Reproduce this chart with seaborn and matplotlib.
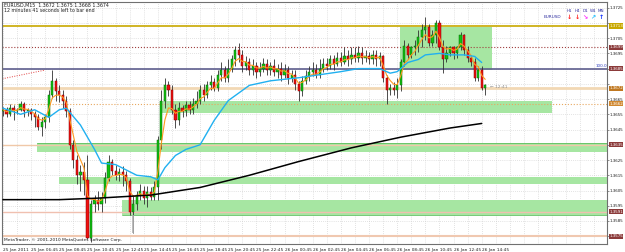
import numpy as np
import pandas as pd
import matplotlib
matplotlib.use("Agg")
import matplotlib.pyplot as plt
import seaborn as sns
from matplotlib.patches import Rectangle

# ---------------- data ----------------
opens = [1.3657,1.3658,1.3655,1.3659,1.3657,1.3658,1.3662,1.3657,1.3658,1.3655,
         1.3653,1.3647,1.3650,1.3653,1.3668,1.3677,1.3670,1.3668,1.3664,1.3657,
         1.3635,1.3625,1.3615,1.3617,1.3612,1.3574,1.3596,1.3599,1.3596,1.3600,
         1.3613,1.3624,1.3618,1.3615,1.3617,1.3615,1.3611,1.3591,1.3596,1.3602,
         1.3605,1.3600,1.3604,1.3601,1.3607,1.3638,1.3664,1.3674,1.3671,1.3658,
         1.3651,1.3659,1.3657,1.3661,1.3658,1.3662,1.3664,1.3671,1.3668,1.3674,
         1.3676,1.3672,1.3681,1.3684,1.3679,1.3685,1.3691,1.3697,1.3694,1.3687,
         1.3689,1.3684,1.3687,1.3683,1.3685,1.3688,1.3684,1.3687,1.3683,1.3685,
         1.3681,1.3684,1.3679,1.3681,1.3675,1.3670,1.3677,1.3680,1.3683,1.3684,
         1.3681,1.3685,1.3688,1.3687,1.3691,1.3688,1.3692,1.3689,1.3693,1.3691,
         1.3694,1.3692,1.3695,1.3692,1.3693,1.3691,1.3694,1.3691,1.3693,1.3679,
         1.3671,1.3672,1.3671,1.3674,1.3689,1.3700,1.3694,1.3699,1.3700,1.3706,
         1.3710,1.3712,1.3702,1.3707,1.3715,1.3699,1.3691,1.3695,1.3699,1.3695,
         1.3699,1.3707,1.3697,1.3692,1.3689,1.3679,1.3684,1.3672]
closes = [1.3658,1.3655,1.3659,1.3657,1.3658,1.3662,1.3657,1.3658,1.3655,1.3653,
          1.3647,1.3650,1.3653,1.3668,1.3677,1.3670,1.3668,1.3664,1.3657,1.3635,
          1.3625,1.3615,1.3617,1.3612,1.3574,1.3596,1.3599,1.3596,1.3600,1.3613,
          1.3624,1.3618,1.3615,1.3617,1.3615,1.3611,1.3591,1.3596,1.3602,1.3605,
          1.3600,1.3604,1.3601,1.3607,1.3638,1.3664,1.3674,1.3671,1.3658,1.3651,
          1.3659,1.3657,1.3661,1.3658,1.3662,1.3664,1.3671,1.3668,1.3674,1.3676,
          1.3672,1.3681,1.3684,1.3679,1.3685,1.3691,1.3697,1.3694,1.3687,1.3689,
          1.3684,1.3687,1.3683,1.3685,1.3688,1.3684,1.3687,1.3683,1.3685,1.3681,
          1.3684,1.3679,1.3681,1.3675,1.3670,1.3677,1.3680,1.3683,1.3684,1.3681,
          1.3685,1.3688,1.3687,1.3691,1.3688,1.3692,1.3689,1.3693,1.3691,1.3694,
          1.3692,1.3695,1.3692,1.3693,1.3691,1.3694,1.3691,1.3693,1.3679,1.3671,
          1.3672,1.3671,1.3674,1.3689,1.3700,1.3694,1.3699,1.3700,1.3706,1.3710,
          1.3712,1.3702,1.3707,1.3715,1.3699,1.3691,1.3695,1.3699,1.3695,1.3699,
          1.3707,1.3697,1.3692,1.3689,1.3679,1.3684,1.3672,1.3674]
highs = [1.3660,1.3660,1.3662,1.3661,1.3659,1.3664,1.3663,1.3659,1.3659,1.3657,
         1.3655,1.3653,1.3655,1.3671,1.3684,1.3679,1.3674,1.3671,1.3667,1.3659,
         1.3638,1.3628,1.3622,1.3624,1.3628,1.3599,1.3602,1.3605,1.3604,1.3617,
         1.3628,1.3626,1.3622,1.3620,1.3621,1.3618,1.3613,1.3602,1.3605,1.3609,
         1.3608,1.3608,1.3607,1.3611,1.3641,1.3671,1.3679,1.3677,1.3674,1.3662,
         1.3663,1.3661,1.3664,1.3664,1.3666,1.3670,1.3674,1.3675,1.3677,1.3681,
         1.3679,1.3684,1.3689,1.3687,1.3691,1.3694,1.3700,1.3702,1.3697,1.3693,
         1.3692,1.3691,1.3689,1.3689,1.3692,1.3691,1.3689,1.3691,1.3688,1.3689,
         1.3688,1.3687,1.3684,1.3684,1.3677,1.3680,1.3684,1.3687,1.3689,1.3688,
         1.3691,1.3692,1.3692,1.3694,1.3694,1.3696,1.3696,1.3699,1.3697,1.3699,
         1.3699,1.3700,1.3699,1.3697,1.3696,1.3697,1.3697,1.3696,1.3694,1.3681,
         1.3675,1.3676,1.3679,1.3691,1.3704,1.3702,1.3700,1.3704,1.3710,1.3714,
         1.3719,1.3714,1.3710,1.3717,1.3717,1.3704,1.3700,1.3700,1.3700,1.3700,
         1.3709,1.3708,1.3700,1.3694,1.3692,1.3687,1.3687,1.3675]
lows = [1.3654,1.3653,1.3654,1.3651,1.3655,1.3657,1.3653,1.3654,1.3651,1.3647,
        1.3645,1.3641,1.3646,1.3650,1.3666,1.3664,1.3663,1.3659,1.3653,1.3632,
        1.3620,1.3609,1.3605,1.3602,1.3573,1.3571,1.3591,1.3592,1.3591,1.3597,
        1.3611,1.3615,1.3612,1.3611,1.3608,1.3605,1.3589,1.3577,1.3592,1.3599,
        1.3596,1.3594,1.3599,1.3599,1.3599,1.3632,1.3659,1.3667,1.3655,1.3646,
        1.3648,1.3653,1.3654,1.3655,1.3655,1.3659,1.3662,1.3664,1.3666,1.3671,
        1.3670,1.3670,1.3677,1.3676,1.3676,1.3683,1.3687,1.3689,1.3683,1.3684,
        1.3681,1.3681,1.3679,1.3680,1.3683,1.3681,1.3681,1.3680,1.3679,1.3677,
        1.3679,1.3675,1.3676,1.3671,1.3664,1.3667,1.3675,1.3677,1.3680,1.3679,
        1.3679,1.3683,1.3684,1.3685,1.3684,1.3687,1.3687,1.3688,1.3687,1.3688,
        1.3689,1.3689,1.3688,1.3689,1.3688,1.3688,1.3687,1.3687,1.3676,1.3662,
        1.3668,1.3668,1.3666,1.3670,1.3687,1.3691,1.3692,1.3694,1.3696,1.3699,
        1.3704,1.3700,1.3700,1.3702,1.3697,1.3682,1.3689,1.3693,1.3691,1.3692,
        1.3697,1.3694,1.3689,1.3687,1.3677,1.3677,1.3671,1.3668]

# slow moving average (cyan) read at bar positions
ma_slow_bar = [0,5,9,13,16,18,22,26,28,32,38,42,44,46,49,52,56,60,64,70,76,84,
               90,96,101,107,110,112,115,118,120,124,127,131,134,136]
ma_slow_val = [1.3659,1.3655,1.3658,1.3653,1.3658,1.3659,1.3648,1.3632,1.3623,
               1.3622,1.3615,1.3614,1.3612,1.3620,1.3628,1.3632,1.3635,1.3651,
               1.3664,1.3674,1.3677,1.3679,1.3681,1.3683,1.3685,1.3685,1.3682,
               1.3683,1.3689,1.3691,1.3694,1.3695,1.3694,1.3694,1.3693,1.3689]
# long moving average (black)
ma_long_bar = [0,16,27,42,56,70,84,99,113,127,136]
ma_long_val = [1.3599,1.3599,1.3600,1.3602,1.3607,1.3615,1.3624,1.3633,1.3640,
               1.3646,1.3649]

# horizontal levels
level_prices = [1.3713, 1.3699, 1.3685, 1.3672, 1.3662, 1.3635, 1.3591, 1.3575]
level_colors = ["#c8a800", "#a04040", "#5e5e8e", "#f2d8b4", "#e8a860",
                "#f0c8a8", "#f0c0b0", "#f0c8b0"]
level_styles = ["-", ":", "-", "-", ":", "-", "-", "-"]
level_widths = [1.2, 0.8, 1.2, 2.0, 0.8, 1.0, 1.0, 1.5]
level_label_bg = ["#c8a800", "#8b3a3a", "#8b3a3a", "#c07820", "#d08830",
                  "#8b3a3a", "#8b3a3a", "#8b3a3a"]

# green zones: (bar start, bar end, low price, high price)
zone_start = [112.8, 44.6, 9.7, 16.0, 33.8]
zone_end = [138.9, 156.0, 172.0, 172.0, 172.0]
zone_low = [1.3684, 1.3656, 1.3630, 1.3609, 1.3589]
zone_high = [1.3712, 1.3664, 1.3636, 1.3614, 1.3599]

price_ticks = [1.3725, 1.3715, 1.3705, 1.3695, 1.3685, 1.3675, 1.3665, 1.3655,
               1.3645, 1.3635, 1.3625, 1.3615, 1.3605, 1.3595, 1.3585, 1.3575]
hidden_ticks = [1.3715, 1.3685, 1.3675, 1.3635, 1.3575]
time_tick_bars = list(range(0, 137, 8))
time_labels = ["25 Jan 2011", "25 Jan 06:45", "25 Jan 08:45", "25 Jan 10:45",
               "25 Jan 12:45", "25 Jan 14:45", "25 Jan 16:45", "25 Jan 18:45",
               "25 Jan 20:45", "25 Jan 22:45", "26 Jan 00:45", "26 Jan 02:45",
               "26 Jan 04:45", "26 Jan 06:45", "26 Jan 08:45", "26 Jan 10:45",
               "26 Jan 12:45", "26 Jan 14:45"]

# ---------------- figure ----------------
sns.set_theme(style="white")
plt.rcParams['font.family'] = ['DejaVu Sans']

W, H = 625, 252
fig = plt.figure(figsize=(W / 100, H / 100), dpi=100)
fig.patch.set_facecolor("white")
ax = fig.add_axes([2 / W, 8 / H, 605 / W, 242 / H])
ax.set_facecolor("white")

XMIN, XMAX = -0.28, 171.6
YMIN, YMAX = 1.35699, 1.37287
ax.set_xlim(XMIN, XMAX)
ax.set_ylim(YMIN, YMAX)

# grid
for b in range(0, 172, 4):
    ax.axvline(b, color="#c8c8c8", ls=(0, (1, 2)), lw=0.5, zorder=0)
for p in price_ticks:
    ax.axhline(p, color="#c8c8c8", ls=(0, (1, 2)), lw=0.5, zorder=0)

# zones
for s, e, lo, hi in zip(zone_start, zone_end, zone_low, zone_high):
    ax.add_patch(Rectangle((s, lo), e - s, hi - lo, facecolor="#a6e6a2",
                           edgecolor="none", zorder=1))

# levels
for p, c, ls, lw in zip(level_prices, level_colors, level_styles, level_widths):
    ax.axhline(p, color=c, ls=ls, lw=lw, zorder=2)
ax.plot([9.7, 172], [1.3636, 1.3636], color="#60c060", lw=0.6, zorder=2)
ax.plot([33.8, 172], [1.3589, 1.3589], color="#60c060", lw=0.6, zorder=2)

# red dotted trend line
ax.plot([-0.85, 11.9], [1.3678, 1.3684], color="#e04040", ls=(0, (1, 1.5)), lw=0.7, zorder=2)

# candles
df = pd.DataFrame({"bar": np.arange(len(closes)), "open": opens, "close": closes,
                   "high": highs, "low": lows})
up = df["close"] >= df["open"]
ax.vlines(df["bar"], df["low"], df["high"], color="#303030", lw=0.6, zorder=3)
ax.vlines([37], [1.3577], [1.3589], color="#b0b0b0", lw=1.2, zorder=3)
body_lo = np.minimum(df["open"], df["close"])
body_h = np.maximum(np.abs(df["close"] - df["open"]), 0.00005)
ax.bar(df["bar"][up], body_h[up], bottom=body_lo[up], width=0.62,
       color="#10c010", edgecolor="#0a6a0a", linewidth=0.35, zorder=4)
ax.bar(df["bar"][~up], body_h[~up], bottom=body_lo[~up], width=0.62,
       color="#f01010", edgecolor="#800000", linewidth=0.35, zorder=4)

# moving averages
fast = df["close"].ewm(span=4, adjust=False).mean()
sns.lineplot(x=df["bar"], y=fast, ax=ax, color="#ff9a20", lw=0.8, zorder=5)
sns.lineplot(x=ma_slow_bar, y=ma_slow_val, ax=ax, color="#20b0f0", lw=1.0, zorder=5)
sns.lineplot(x=ma_long_bar, y=ma_long_val, ax=ax, color="#000000", lw=1.1, zorder=5)

# axes styling
for s in ax.spines.values():
    s.set_color("#707070")
    s.set_linewidth(0.8)
ax.set_xlabel("")
ax.set_ylabel("")
ax.set_xticks(time_tick_bars)
ax.set_xticklabels(time_labels, fontsize=3.1, ha="left", color="#202020")
ax.tick_params(axis="x", length=2, pad=1, width=0.5, color="#606060")
ax.yaxis.tick_right()
ax.set_yticks(price_ticks)
ax.set_yticklabels(["" if p in hidden_ticks else f"{p:.4f}" for p in price_ticks],
                   fontsize=2.9, color="#202020")
ax.tick_params(axis="y", length=1.5, pad=0.5, width=0.5, color="#606060")

# highlighted level labels on the price scale
for p, bg in zip(level_prices, level_label_bg):
    ax.text(1.0035, (p - YMIN) / (YMAX - YMIN), f"{p:.4f}", transform=ax.transAxes,
            fontsize=2.9, color="white", va="center", ha="left", zorder=10,
            bbox=dict(boxstyle="square,pad=0.15", facecolor=bg, edgecolor="none"),
            clip_on=False)

# texts
fig.text(4 / W, 1 - 5 / H, "EURUSD,M15  1.3672 1.3675 1.3668 1.3674", fontsize=3.4,
         color="#202020", va="center", ha="left")
fig.text(4 / W, 1 - 11 / H, "12 minutes 41 seconds left to bar end", fontsize=3.4,
         color="#202020", va="center", ha="left")
fig.text(4 / W, 1 - 240 / H, "MetaTrader, © 2001-2010 MetaQuotes Software Corp.",
         fontsize=3.2, color="#202020", va="center", ha="left")
fig.text(544 / W, 1 - 17 / H, "EURUSD", fontsize=3.1, color="#3030a0",
         va="center", ha="left")
tf_names = ["H1", "H4", "D1", "W1", "MN"]
tf_x = [569, 577, 585, 593, 601]
tf_arrows = ["\u2193", "\u2193", "\u2198", "\u2197", "\u2191"]
tf_colors = ["#ff2020", "#ff2020", "#ff20ff", "#20c0ff", "#1030ff"]
for n, xx, a, c in zip(tf_names, tf_x, tf_arrows, tf_colors):
    fig.text(xx / W, 1 - 11 / H, n, fontsize=3.0, color="#3030a0", va="center", ha="center")
    fig.text(xx / W, 1 - 17.5 / H, a, fontsize=4.5, color=c, va="center", ha="center",
             fontweight="bold")
fig.text(596 / W, 1 - 66 / H, "100.0", fontsize=3.0, color="#3040c0",
         va="center", ha="left")
ax.text(138.5, 1.3673, "\u2190 12:41", fontsize=3.2, color="#909090", va="center", ha="left")

fig.savefig("out.png", dpi=100, facecolor="white")
